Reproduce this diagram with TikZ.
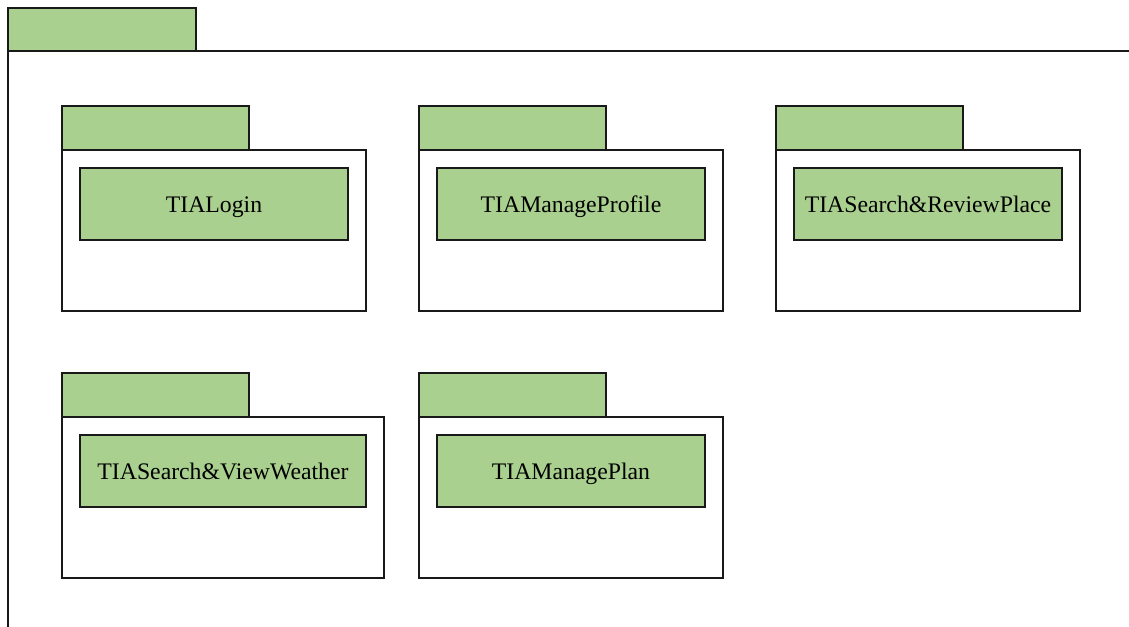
\documentclass[tikz,border=0pt]{standalone}
\usepackage{fontspec}
\setmainfont{Liberation Serif}
\usepackage{xcolor}
\definecolor{pkggreen}{rgb}{0.663,0.816,0.557}
\definecolor{pkgline}{rgb}{0.1,0.1,0.1}

\begin{document}
\begin{tikzpicture}[line cap=rect,line join=miter,x=0.75pt,y=-0.75pt,
  tab/.style={draw=pkgline,line width=0.9pt,fill=pkggreen},
  body/.style={draw=pkgline,line width=0.9pt,fill=white},
  cls/.style={draw=pkgline,line width=0.9pt,fill=pkggreen},
  clsname/.style={font=\fontsize{17.8}{20}\selectfont,inner sep=0pt,anchor=base}]
\useasboundingbox (0,0) rectangle (1129,626);
\clip (0,0) rectangle (1129,626);
% outer package
\draw [body] (1140,51) -- (8,51) -- (8,640);
\draw [tab] (8,8) rectangle (196,51);
% first row
\draw [tab] (62,106) rectangle (249,150);
\draw [body] (62,150) rectangle (366,311);
\draw [cls] (80,168) rectangle (348,240);
\node[clsname] (login) at (214,212) {TIALogin};
\draw [tab] (419,106) rectangle (606,150);
\draw [body] (419,150) rectangle (723,311);
\draw [cls] (437,168) rectangle (705,240);
\node[clsname] (profile) at (571,212) {TIAManageProfile};
\draw [tab] (776,106) rectangle (963,150);
\draw [body] (776,150) rectangle (1080,311);
\draw [cls] (794,168) rectangle (1062,240);
\node[clsname] (place) at (928,212) {TIASearch\&ReviewPlace};
% second row
\draw [tab] (62,373) rectangle (249,417);
\draw [body] (62,417) rectangle (384,578);
\draw [cls] (80,435) rectangle (366,507);
\node[clsname] (weather) at (223,479) {TIASearch\&ViewWeather};
\draw [tab] (419,373) rectangle (606,417);
\draw [body] (419,417) rectangle (723,578);
\draw [cls] (437,435) rectangle (705,507);
\node[clsname] (plan) at (571,479) {TIAManagePlan};
\end{tikzpicture}
\end{document}
